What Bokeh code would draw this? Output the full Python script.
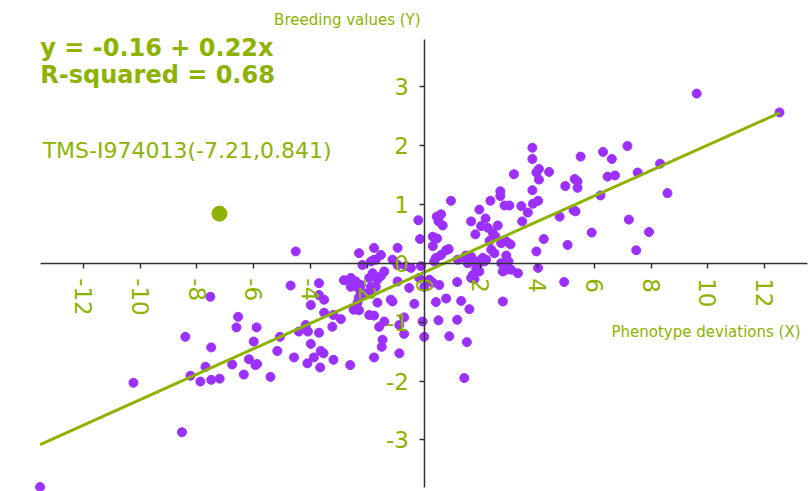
import math
from bokeh.plotting import figure
from bokeh.models import Range1d, FixedTicker, Label, LinearAxis, ColumnDataSource
from bokeh.embed import file_html
from bokeh.resources import INLINE

# ---------------- data ----------------
pheno_x = [
    9.61, 12.53, 7.17, 6.31, 6.62, 5.52, 8.32, 7.53, 6.47, 6.73, 5.31, 5.41, 4.98, 5.41, 8.58,
    6.22, 5.27, 5.34, 7.22, 5.91, 7.93, 5.06, 7.48, 4.94, 4.78,
    -0.20, -0.14, 0.31, 0.31, 0.46, 0.45, 0.60, 0.51, 0.66, 0.87, 0.95, 1.66, 1.81, 1.95, 2.17,
    2.01, 2.25, 2.60, 2.43, 2.51, 2.34, 2.31, 2.69, 2.69, 2.84, 3.01, 2.72, 2.90, 3.05, 3.17,
    3.43, 3.46, 3.66, 3.82, 3.82, 3.82, 3.84, 4.02, 3.96, 4.05, 4.05, 4.41, 4.22, 3.96,
    0.78, 0.60, 0.42, 0.36, 1.43, 1.66, 1.84, 2.07, 2.13, 1.54, 2.37, 2.48, 2.90, 2.98, 2.72,
    1.19, 1.48, 2.19,
    4.02, 3.31, 2.90, 2.78, 3.07, 1.72, 1.66, 1.78, 1.95, 1.92, 1.84, 2.78, 1.60, 1.31, 0.78,
    0.42, 1.17, 0.54, 0.31, 0.19, 0.01, -0.05, 0.51, 1.17, 0.01, 0.89, 1.51, 1.42,
    -0.52, -0.34, -0.70, -0.87,
    -2.17, -1.87, -1.70, -0.93, -0.64, -0.46, -4.70, -3.70, -3.70, -3.52, -3.99, -2.82, -2.58,
    -2.40, -2.23, -2.29, -2.58, -1.87, -1.64, -1.52, -1.40, -1.81, -1.93, -1.70, -2.29, -2.34,
    -1.93, -1.64, -2.11, -1.17, -1.11, -0.93, -0.17, -0.11, -3.52, -3.19, -2.93, -2.48, -2.29,
    -1.93, -1.76, -1.40, -1.58, -0.87, -4.17, -4.41, -4.09, -3.70, -5.08, -3.23, -3.99, -3.64,
    -3.54, -3.88, -4.11, -3.66, -4.58, -3.19, -2.60, -1.46, -1.49, -1.76, -0.70,
    -4.52, -2.29, -1.76, -1.52, -1.76, -0.93, -1.11,
    -7.53, -6.55, -6.61, -5.90, -8.41, -7.50, -6.00, -5.17, -6.17, -5.94, -5.88, -6.76, -7.70,
    -8.23, -7.88, -7.50, -7.20, -6.35, -5.41, -10.24, -8.53, -13.53,
]
breed_y = [
    2.88, 2.56, 1.99, 1.89, 1.77, 1.81, 1.69, 1.54, 1.47, 1.49, 1.43, 1.39, 1.31, 1.28, 1.19,
    1.15, 0.90, 0.88, 0.74, 0.52, 0.53, 0.31, 0.22, -0.32, 0.79,
    0.73, 0.41, 0.29, 0.45, 0.42, 0.79, 0.83, 0.71, 0.64, 0.24, 1.06, 0.71, 0.49, 0.91, 0.76,
    0.63, 0.60, 0.64, 0.51, 0.46, 1.06, 0.38, 1.22, 1.14, 0.98, 0.98, 0.34, 0.37, 0.32, 1.51,
    0.97, 0.71, 0.86, 1.96, 1.77, 1.24, 1.01, 1.06, 1.54, 1.60, 1.42, 1.55, 0.41, 0.20,
    0.22, 0.14, 0.09, 0.03, 0.09, 0.11, 0.03, 0.09, 0.03, 0.00, 0.23, 0.17, 0.13, 0.03, 0.00,
    0.06, 0.13, 0.06,
    -0.08, -0.17, -0.11, -0.14, -0.11, -0.20, -0.25, -0.27, -0.14, -0.01, -0.08, -0.65, -0.78,
    -0.64, -0.60, -0.66, -0.32, -0.37, -0.33, -0.28, -0.40, -0.99, -0.97, -0.96, -1.25, -1.24,
    -1.34, -1.95,
    -0.42, -0.69, -1.20, -1.53,
    -0.03, 0.03, 0.06, -0.03, -0.05, -0.08, -0.38, -0.34, -0.54, -0.62, -0.71, -0.29, -0.25,
    -0.31, -0.37, -0.44, -0.40, -0.40, -0.28, -0.22, -0.14, -0.17, -0.25, -0.40, -0.58, -0.67,
    -0.50, -0.67, -0.51, -0.62, -0.65, -0.31, -0.25, -0.05, -0.84, -0.88, -0.95, -0.79, -0.80,
    -0.88, -0.89, -0.99, -1.08, -1.05, -1.05, -1.16, -1.16, -1.18, -1.25, -1.08, -1.37, -1.49,
    -1.53, -1.60, -1.70, -1.77, -1.60, -1.64, -1.73, -1.30, -1.42, -1.60, -0.92,
    0.20, 0.17, 0.26, 0.14, 0.06, 0.26, 0.06,
    -0.57, -0.91, -1.09, -1.09, -1.25, -1.43, -1.33, -1.49, -1.63, -1.73, -1.71, -1.72, -1.76,
    -1.91, -2.01, -1.98, -1.96, -1.89, -1.93, -2.03, -2.87, -3.80,
]

intercept = -0.156
slope = 0.216
r_squared = 0.68

highlight_name = "TMS-I974013"
highlight_x = [-7.21]
highlight_y = [0.841]

x_ticks = [-12, -10, -8, -6, -4, -2, 0, 2, 4, 6, 8, 10, 12]
y_ticks = [-3, -2, -1, 0, 1, 2, 3]
x_bounds = (-13.5, 13.5)
y_bounds = (-3.8, 3.8)

GREEN = "#8db300"
PURPLE = "#9b30ff"
AXIS = "#333333"
FONT = "DejaVu Sans"

# ---------------- figure ----------------
p = figure(width=810, height=491, output_backend="svg", toolbar_location=None,
           x_range=Range1d(-14.925, 13.621), y_range=Range1d(-3.876, 4.460),
           x_axis_type=None, y_axis_type=None, min_border=0)
p.outline_line_color = None
p.background_fill_color = "white"

xa = LinearAxis(fixed_location=0, ticker=FixedTicker(ticks=x_ticks), bounds=x_bounds)
ya = LinearAxis(fixed_location=0, ticker=FixedTicker(ticks=y_ticks), bounds=y_bounds)
for ax, ticks in ((xa, x_ticks), (ya, y_ticks)):
    ax.axis_line_color = AXIS
    ax.axis_line_width = 1.5
    ax.major_tick_line_color = AXIS
    ax.major_tick_line_width = 1.5
    ax.major_tick_out = 5
    ax.major_tick_in = 0
    ax.minor_tick_line_color = None
    ax.major_label_text_color = GREEN
    ax.major_label_text_font = FONT
    ax.major_label_text_font_size = "23px"
    ax.major_label_standoff = 10
    ax.major_label_overrides = {t: str(t) for t in ticks}
xa.major_label_orientation = -math.pi / 2
p.add_layout(xa, "below")
p.add_layout(ya, "left")

src = ColumnDataSource(data=dict(x=pheno_x, y=breed_y))
p.scatter("x", "y", source=src, size=9, fill_color=PURPLE, line_color=PURPLE)

x_lo, x_hi = min(pheno_x), max(pheno_x)
p.line([x_lo, x_hi], [intercept + slope * x_lo, intercept + slope * x_hi],
       line_color=GREEN, line_width=3)

p.scatter(highlight_x, highlight_y, size=15, fill_color=GREEN, line_color=GREEN)

eq_text = f"y = {intercept:.2f} + {slope:.2f}x"
r_text = f"R-squared = {r_squared:.2f}"
hl_text = f"{highlight_name}({highlight_x[0]},{highlight_y[0]})"

p.add_layout(Label(x=-13.52, y=3.654, text=eq_text, text_font=FONT, text_font_style="bold",
                   text_font_size="24px", text_color=GREEN, text_baseline="middle"))
p.add_layout(Label(x=-13.52, y=3.187, text=r_text, text_font=FONT, text_font_style="bold",
                   text_font_size="24px", text_color=GREEN, text_baseline="middle"))
p.add_layout(Label(x=-13.44, y=1.913, text=hl_text, text_font=FONT,
                   text_font_size="22px", text_color=GREEN, text_baseline="middle"))
p.add_layout(Label(x=-0.12, y=4.137, text="Breeding values (Y)", text_font=FONT,
                   text_font_size="15px", text_color=GREEN, text_align="right",
                   text_baseline="middle"))
p.add_layout(Label(x=13.27, y=-1.16, text="Phenotype deviations (X)", text_font=FONT,
                   text_font_size="15px", text_color=GREEN, text_align="right",
                   text_baseline="middle"))

open("out.html", "w").write(file_html(p, INLINE))
